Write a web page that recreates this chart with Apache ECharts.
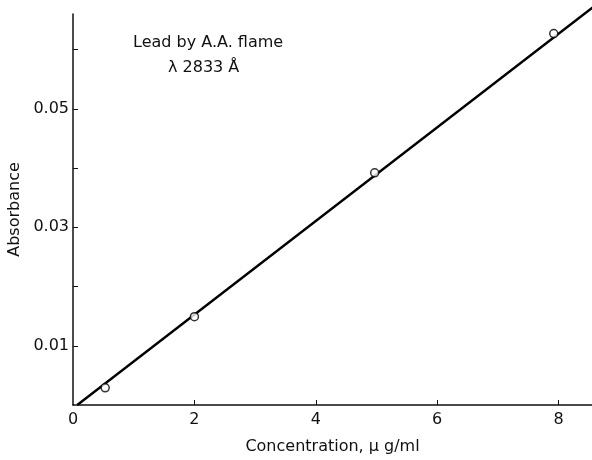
<!DOCTYPE html>
<html>
<head>
<meta charset="utf-8">
<script src="https://cdn.jsdelivr.net/npm/echarts@6/dist/echarts.min.js"></script>
<style>
  html, body { margin: 0; padding: 0; background: #fff; }
  #chart { width: 592px; height: 460px; }
</style>
</head>
<body>
<div id="chart"></div>
<script>
// measured points (concentration, absorbance)
const concentration = [0.53, 2.0, 4.97, 7.92];
const absorbance = [0.0029, 0.0149, 0.0392, 0.0627];
// calibration line end points
const fitX = [0.07, 8.56];
const fitY = [0.0, 0.0671];
const xTicks = [0, 2, 4, 6, 8];
const yTicks = [0.01, 0.02, 0.03, 0.04, 0.05, 0.06];
const yLabels = [0.01, 0.03, 0.05];

const font = 'DejaVu Sans';
var myChart = echarts.init(document.getElementById('chart'));

const option = {
  backgroundColor: '#fff',
  animation: false,
  grid: { left: 73, right: 0, top: 14, bottom: 55, outerBoundsMode: 'none' },
  xAxis: {
    type: 'value',
    min: 0,
    max: 8.55,
    interval: 2,
    name: 'Concentration, μ g/ml',
    nameLocation: 'middle',
    nameGap: 34,
    nameTextStyle: { color: '#111', fontSize: 16, fontFamily: font },
    axisLine: { lineStyle: { color: '#111', width: 1.5 } },
    axisTick: { inside: true, length: 5, customValues: xTicks.slice(1), lineStyle: { color: '#111' } },
    axisLabel: {
      color: '#111', fontSize: 16, fontFamily: font, margin: 7,
      customValues: xTicks,
      formatter: v => String(v)
    },
    splitLine: { show: false }
  },
  yAxis: {
    type: 'value',
    min: 0,
    max: 0.066,
    interval: 0.01,
    name: 'Absorbance',
    nameLocation: 'middle',
    nameGap: 48,
    nameTextStyle: { color: '#111', fontSize: 16, fontFamily: font },
    axisLine: { lineStyle: { color: '#111', width: 1.5 } },
    axisTick: { inside: true, length: 5, customValues: yTicks, lineStyle: { color: '#111' } },
    axisLabel: {
      color: '#111', fontSize: 16, fontFamily: font, margin: 4,
      customValues: yLabels,
      formatter: v => v.toFixed(2)
    },
    splitLine: { show: false }
  },
  graphic: [
    {
      type: 'text', left: 133, top: 35,
      style: { text: 'Lead by A.A. flame', fill: '#111', fontSize: 16, fontFamily: font }
    },
    {
      type: 'text', left: 168, top: 60,
      style: { text: 'λ 2833 Å', fill: '#111', fontSize: 16, fontFamily: font }
    }
  ],
  series: [
    {
      type: 'line',
      data: fitX.map((x, i) => [x, fitY[i]]),
      symbol: 'none',
      clip: false,
      lineStyle: { color: '#000', width: 2.4 }
    },
    {
      type: 'scatter',
      data: concentration.map((x, i) => [x, absorbance[i]]),
      symbol: 'circle',
      symbolSize: 8,
      itemStyle: { color: '#fff', borderColor: '#000', borderWidth: 1.5 },
      z: 5
    }
  ]
};

myChart.setOption(option);
</script>
</body>
</html>
